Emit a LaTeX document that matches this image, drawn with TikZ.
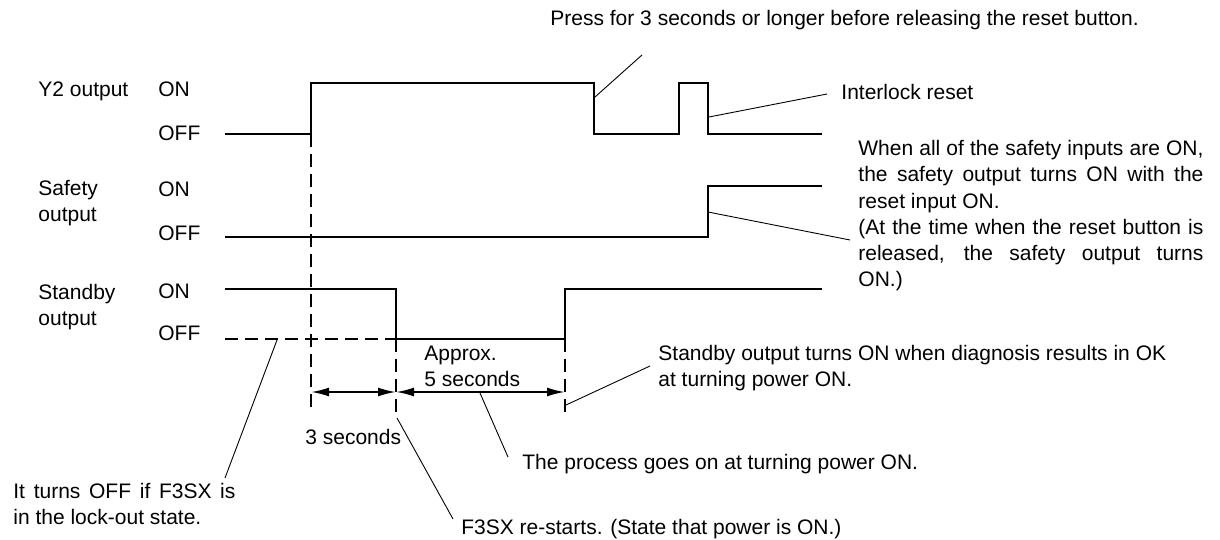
\documentclass[tikz,border=0pt]{standalone}
\usepackage{fontspec}
\setmainfont{Liberation Sans}
\usetikzlibrary{arrows.meta}

\tikzset{
  wave/.style={line width=1.35pt, line join=miter},
  guide/.style={line width=0.6pt, dash pattern=on 6.5pt off 3.5pt},
  leader/.style={line width=0.45pt},
  span/.style={line width=1pt, {Latex[length=9pt,width=4.5pt]}-{Latex[length=9pt,width=4.5pt]}},
  lbl/.style={inner sep=0pt, anchor=base west},
  blk/.style={inner sep=0pt, anchor=north west, align=left},
}
\newcommand{\fullline}[2][172.5pt]{\makebox[#1][s]{#2}}

\begin{document}
\begin{tikzpicture}[x=0.5pt,y=-0.5pt,font=\fontsize{10.5}{13.1}\selectfont]
\useasboundingbox (0,0) rectangle (1220,540);
% signal names
\node[lbl] (y2name) at (38,96.5) {Y2 output};
\node[blk] (safename) at (38,179.5) {Safety\\output};
\node[blk] (stbyname) at (38,284) {Standby\\output};
% levels
\node[lbl] (y2on) at (158,96.5) {ON};
\node[lbl] (y2off) at (158,140.5) {OFF};
\node[lbl] (safeon) at (158,196.5) {ON};
\node[lbl] (safeoff) at (158,240) {OFF};
\node[lbl] (stbyon) at (158,298) {ON};
\node[lbl] (stbyoff) at (158,340) {OFF};

% waveforms
\draw[wave] (225,134) -- (311,134) -- (311,83) -- (594,83) -- (594,134) -- (679,134)
  -- (679,83) -- (708,83) -- (708,134) -- (822,134);
\draw[wave] (225,237) -- (708,237) -- (708,186) -- (822,186);
\draw[wave] (225,289) -- (396,289) -- (396,339) -- (565,339) -- (565,289) -- (822,289);

% guides
\draw[guide] (225,339) -- (396,339);
\draw[guide] (311,134) -- (311,413);
\draw[guide] (396,339) -- (396,412);
\draw[guide] (565,339) -- (565,412);

% timing
\coordinate (t0) at (311,392);
\coordinate (t1) at (396,392);
\coordinate (t2) at (565,392);
\draw[span] (t0) -- (t1);
\draw[span] (t1) -- (t2);

% notes
\node[lbl] (press) at (550,25.5) {Press for 3 seconds or longer before releasing the reset button.};
\node[lbl] (ilk) at (841,99) {Interlock reset};
\node[blk] (safenote) at (858,140) {\fullline{When all of the safety inputs are ON,}\\
  \fullline{the safety output turns ON with the}\\
  reset input ON.\\
  \fullline{(At the time when the reset button is}\\
  \fullline{released, the safety output turns}\\
  ON.)};
\node[blk] (approx) at (424,345.5) {Approx.\\5 seconds};
\node[blk] (diag) at (658,345) {Standby output turns ON when diagnosis results in OK\\at turning power ON.};
\node[lbl] (three) at (305,444) {3 seconds};
\node[lbl] (process) at (522,469) {The process goes on at turning power ON.};
\node[blk] (lockout) at (13,482.5) {\fullline[111pt]{It turns OFF if F3SX is}\\in the lock-out state.};
\node[lbl] (restart) at (461,534) {F3SX re-starts. (State that power is ON.)};

% leaders
\coordinate (pressA) at (595,97);   \coordinate (pressB) at (642,55);
\coordinate (ilkA) at (709,117);    \coordinate (ilkB) at (827,94);
\coordinate (safeA) at (708,212);   \coordinate (safeB) at (850,240);
\coordinate (diagA) at (566,405);   \coordinate (diagB) at (650,366);
\coordinate (procA) at (480,393);   \coordinate (procB) at (508,457);
\coordinate (restA) at (397,418);   \coordinate (restB) at (453,519);
\coordinate (lockA) at (277,340);   \coordinate (lockB) at (225,478);
\draw[leader] (pressA) -- (pressB);
\draw[leader] (ilkA) -- (ilkB);
\draw[leader] (safeA) -- (safeB);
\draw[leader] (diagA) -- (diagB);
\draw[leader] (procA) -- (procB);
\draw[leader] (restA) -- (restB);
\draw[leader] (lockA) -- (lockB);
\end{tikzpicture}
\end{document}
